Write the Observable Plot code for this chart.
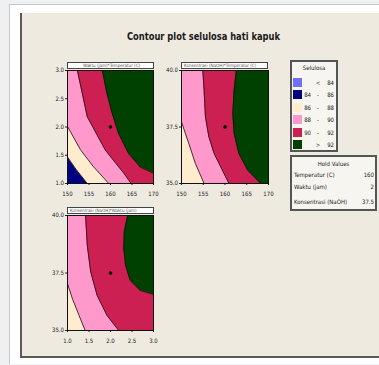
<!DOCTYPE html>
<html><head><meta charset="utf-8">
<script src="https://cdn.jsdelivr.net/npm/d3@7"></script>
<script src="https://cdn.jsdelivr.net/npm/@observablehq/plot@0.6"></script>
<style>
body{margin:0;width:379px;height:365px;overflow:hidden;background:#eef0f2;font-family:"DejaVu Sans Condensed","DejaVu Sans",sans-serif;font-stretch:condensed;position:relative;}
.abs{position:absolute;}
#page{left:9px;top:4px;width:400px;height:359px;background:#fff;border-left:1px solid #c4c6c8;border-top:1px solid #c4c6c8;}
#panel{left:20px;top:13px;width:380px;height:343px;background:#eeeae0;border-left:2px solid #5a5a5a;border-bottom:2px solid #5a5a5a;}
#title{top:31px;font-weight:bold;font-size:11px;line-height:12px;color:#1a1a1a;white-space:nowrap;transform-origin:0 0;}
.ptitle{height:7px;background:#fff;border:1px solid #444;font-size:4.5px;line-height:6px;color:#555;white-space:nowrap;overflow:hidden;box-sizing:border-box;padding-left:2px;}
.box{background:#f7f5ef;border:2px solid #555;box-sizing:border-box;}
.lt{font-size:6px;color:#222;white-space:nowrap;line-height:7px;}
</style></head>
<body>
<script>
// ---- data ----
const levelLabels = [["", "<", "84"], ["84", "-", "86"], ["86", "-", "88"], ["88", "-", "90"], ["90", "-", "92"], ["", ">", "92"]];
const levelColors = ["#7070ff", "#000080", "#ffebcd", "#ff99cc", "#cc2052", "#004000"];
const holdNames = ["Temperatur (C)", "Waktu (jam)", "Konsentrasi (NaOH)"];
const holdValues = ["160", "2", "37.5"];
const panelTitles = ["Waktu (jam)*Temperatur (C)", "Konsentrasi (NaOH)*Temperatur (C)", "Konsentrasi (NaOH)*Waktu (jam)"];

const tempTicks = [150, 155, 160, 165, 170];
const waktuTicks = [1.0, 1.5, 2.0, 2.5, 3.0];
const konsTicks = [35.0, 37.5, 40.0];

// Panel 1: Waktu (y) vs Temperatur (x); boundaries [x, y]
const p1_86 = [[150, 1.47], [152, 1.25], [154.6, 1.0]];
const p1_88 = [[150, 2.01], [153, 1.6], [156, 1.3], [159.6, 1.0]];
const p1_90 = [[152.3, 3.0], [154.6, 2.18], [158.8, 1.59], [163.1, 1.18], [164.8, 1.0]];
const p1_92 = [[158.1, 3.0], [159.2, 2.59], [160.4, 2.24], [161.9, 1.88], [164.2, 1.53], [166.9, 1.29], [170, 1.18]];
// Panel 2: Konsentrasi (y) vs Temperatur (x)
const p2_88 = [[150, 37.72], [151.7, 36.76], [153.2, 35.88], [155.2, 35.0]];
const p2_90 = [[154.9, 40], [155.2, 39.12], [155.5, 37.94], [156.3, 37.06], [157.5, 36.32], [159.0, 35.74], [160.9, 35.0]];
const p2_92 = [[162.6, 40], [162.1, 39.12], [161.8, 38.09], [162.1, 37.21], [163.2, 36.32], [165.2, 35.59], [168.2, 35.0]];
// Panel 3: Konsentrasi (y) vs Waktu (x)
const p3_88 = [[1.0, 37.03], [1.115, 36.38], [1.27, 35.65], [1.41, 35.0]];
const p3_90 = [[1.42, 40], [1.46, 38.7], [1.54, 37.54], [1.69, 36.52], [1.92, 35.65], [2.19, 35.0]];
const p3_92 = [[2.4, 40], [2.32, 39.28], [2.31, 38.55], [2.35, 37.83], [2.46, 37.17], [2.69, 36.74], [3.0, 36.57]];

const hold1 = [[160, 2.0]];
const hold2 = [[160, 37.5]];
const hold3 = [[2.0, 37.5]];

// ---- layout ----
function el(cls, css, html) {
  const d = document.createElement("div");
  d.className = "abs " + (cls || "");
  Object.assign(d.style, css || {});
  if (html != null) d.innerHTML = html;
  document.body.appendChild(d);
  return d;
}
const page = el(""); page.id = "page";
const panel = el(""); panel.id = "panel";
const title = el("", {}, "Contour plot selulosa hati kapuk"); title.id = "title";
{
  const w = title.getBoundingClientRect().width;
  const target = 153;
  const s = target / w;
  title.style.left = (203 - target / 2) + "px";
  title.style.transform = `scaleX(${s})`;
}

const style = {background: "transparent", fontSize: "6px", fontFamily: "'DejaVu Sans Condensed','DejaVu Sans',sans-serif", color: "#222", overflow: "visible"};
const f1 = d3.format(".1f");

function areaUp(pts, xmax, ymin, ymax, color) {
  const d = pts.slice().sort((a, b) => a[0] - b[0]);
  const last = d[d.length - 1];
  if (last[0] < xmax) d.push([xmax, ymin]);
  return Plot.areaY(d, {x: p => p[0], y1: p => p[1], y2: ymax, fill: color});
}
function areaRight(pts, xmin, xmax, ymax, color) {
  const d = pts.slice().sort((a, b) => a[1] - b[1]);
  const last = d[d.length - 1];
  if (last[1] < ymax) d.push([xmin, ymax]);
  return Plot.areaX(d, {y: p => p[1], x1: p => p[0], x2: xmax, fill: color});
}
const contour = (pts) => Plot.line(pts, {x: p => p[0], y: p => p[1], stroke: "#111", strokeWidth: 0.8});
const hold = (pts) => Plot.dot(pts, {x: p => p[0], y: p => p[1], r: 1.8, fill: "#000"});

function mount(chart, left, top) {
  const d = el("", {left: left + "px", top: top + "px"});
  d.appendChild(chart);
}

const chart1 = Plot.plot({
  width: 125, height: 145, marginLeft: 27, marginRight: 12, marginTop: 10, marginBottom: 22,
  style,
  x: {domain: [150, 170], ticks: tempTicks, tickFormat: d => d, tickSize: 2, tickPadding: 6, label: null},
  y: {domain: [1, 3], ticks: waktuTicks, tickFormat: f1, tickSize: 2, tickPadding: 1.5, label: null},
  marks: [
    Plot.frame({fill: levelColors[1]}),
    areaUp(p1_86, 170, 1, 3, levelColors[2]),
    areaUp(p1_88, 170, 1, 3, levelColors[3]),
    areaUp(p1_90, 170, 1, 3, levelColors[4]),
    areaUp(p1_92, 170, 1, 3, levelColors[5]),
    contour(p1_86), contour(p1_88), contour(p1_90), contour(p1_92),
    hold(hold1),
    Plot.frame({stroke: "#111"})
  ]
});
mount(chart1, 40, 60);

const chart2 = Plot.plot({
  width: 130, height: 145, marginLeft: 31, marginRight: 12, marginTop: 10, marginBottom: 22,
  style,
  x: {domain: [150, 170], ticks: tempTicks, tickFormat: d => d, tickSize: 2, tickPadding: 6, label: null},
  y: {domain: [35, 40], ticks: konsTicks, tickFormat: f1, tickSize: 2, tickPadding: 1.5, label: null},
  marks: [
    Plot.frame({fill: levelColors[2]}),
    areaRight(p2_88, 150, 170, 40, levelColors[3]),
    areaRight(p2_90, 150, 170, 40, levelColors[4]),
    areaRight(p2_92, 150, 170, 40, levelColors[5]),
    contour(p2_88), contour(p2_90), contour(p2_92),
    hold(hold2),
    Plot.frame({stroke: "#111"})
  ]
});
mount(chart2, 150, 60);

const chart3 = Plot.plot({
  width: 125, height: 147, marginLeft: 27, marginRight: 12, marginTop: 10, marginBottom: 22,
  style,
  x: {domain: [1, 3], ticks: waktuTicks, tickFormat: f1, tickSize: 2, tickPadding: 6, label: null},
  y: {domain: [35, 40], ticks: konsTicks, tickFormat: f1, tickSize: 2, tickPadding: 1.5, label: null},
  marks: [
    Plot.frame({fill: levelColors[2]}),
    areaRight(p3_88, 1, 3, 40, levelColors[3]),
    areaRight(p3_90, 1, 3, 40, levelColors[4]),
    areaRight(p3_92, 1, 3, 40, levelColors[5]),
    contour(p3_88), contour(p3_90), contour(p3_92),
    hold(hold3),
    Plot.frame({stroke: "#111"})
  ]
});
mount(chart3, 40, 205);

el("ptitle", {left: "67px", top: "62px", width: "87px", textAlign: "center"}, panelTitles[0]);
el("ptitle", {left: "181px", top: "62px", width: "87px"}, panelTitles[1]);
el("ptitle", {left: "67px", top: "207px", width: "87px"}, panelTitles[2]);

// legend
el("box", {left: "290px", top: "60px", width: "48px", height: "92px"});
el("lt", {left: "290px", top: "64px", width: "48px", textAlign: "center"}, "Selulosa");
const rowY = [78, 90, 102.5, 115, 127.5, 140];
levelLabels.forEach((lab, i) => {
  el("", {left: "293px", top: rowY[i] + "px", width: "9px", height: "9px", background: levelColors[i]});
  el("lt", {left: "303px", top: (rowY[i] + 1) + "px", width: "8px", textAlign: "right"}, lab[0]);
  el("lt", {left: "314px", top: (rowY[i] + 1) + "px", width: "8px", textAlign: "center"}, lab[1]);
  el("lt", {left: "326px", top: (rowY[i] + 1) + "px", width: "8px", textAlign: "right"}, lab[2]);
});
el("box", {left: "290px", top: "155px", width: "87px", height: "56px"});
el("lt", {left: "290px", top: "160px", width: "87px", textAlign: "center"}, "Hold Values");
const holdY = [171, 183, 198];
holdNames.forEach((n, i) => {
  el("lt", {left: "294px", top: holdY[i] + "px"}, n);
  el("lt", {left: "343px", top: holdY[i] + "px", width: "31px", textAlign: "right"}, holdValues[i]);
});
</script>
</body></html>
